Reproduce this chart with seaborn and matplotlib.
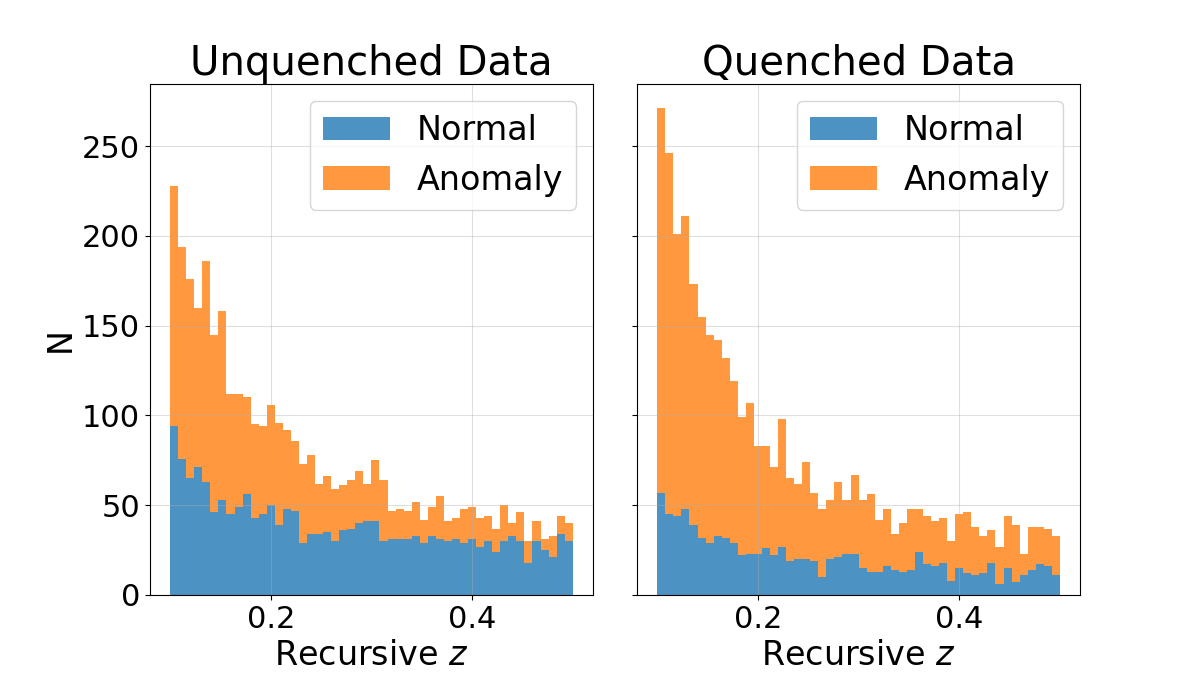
import numpy as np
import pandas as pd
import matplotlib
matplotlib.use("Agg")
import matplotlib.pyplot as plt
import seaborn as sns
from matplotlib.patches import Patch

# bin setup: 50 bins between z=0.1 and z=0.5
z_min, z_max, n_bins = 0.1, 0.5, 50

# counts (Normal at the bottom, Anomaly stacked on top)
unq_normal = [94, 76, 65, 71, 63, 46, 53, 45, 49, 56, 43, 45, 50, 39, 48, 47, 29, 34, 34, 35,
              30, 36, 37, 40, 41, 41, 30, 31, 31, 31, 33, 29, 33, 31, 30, 31, 29, 31, 27, 30,
              24, 30, 33, 30, 18, 30, 25, 21, 34, 30]
unq_anomaly = [134, 118, 111, 89, 123, 99, 105, 67, 63, 54, 52, 49, 56, 57, 44, 39, 44, 44, 28, 31,
               29, 25, 27, 29, 21, 34, 34, 16, 17, 16, 19, 13, 16, 24, 11, 12, 19, 18, 16, 14,
               13, 20, 7, 16, 12, 11, 6, 12, 10, 10]

q_normal = [57, 45, 44, 48, 39, 32, 29, 33, 32, 29, 22, 23, 23, 26, 22, 27, 19, 20, 20, 19,
            10, 20, 21, 23, 23, 15, 13, 13, 16, 14, 13, 14, 24, 17, 16, 18, 8, 15, 12, 11,
            12, 18, 6, 15, 7, 11, 14, 17, 16, 11]
q_anomaly = [214, 201, 157, 163, 134, 123, 116, 109, 100, 90, 77, 84, 60, 57, 49, 71, 46, 42, 54, 38,
             38, 33, 42, 30, 44, 38, 43, 29, 32, 20, 27, 34, 24, 27, 25, 25, 22, 30, 34, 27,
             21, 18, 21, 29, 32, 12, 24, 21, 21, 22]

titles = ["Unquenched Data", "Quenched Data"]
labels = ["Normal", "Anomaly"]
colors = {"Normal": "#1f77b4", "Anomaly": "#ff7f0e"}

edges = np.linspace(z_min, z_max, n_bins + 1)
centers = 0.5 * (edges[:-1] + edges[1:])


def make_df(normal, anomaly):
    d1 = pd.DataFrame({"z": centers, "count": normal, "label": "Normal"})
    d2 = pd.DataFrame({"z": centers, "count": anomaly, "label": "Anomaly"})
    return pd.concat([d1, d2], ignore_index=True)


panels = [make_df(unq_normal, unq_anomaly), make_df(q_normal, q_anomaly)]

fig, axes = plt.subplots(1, 2, figsize=(12, 7), dpi=100, sharey=True)
fig.subplots_adjust(left=0.125, right=0.9, top=0.88, bottom=0.15, wspace=0.1)

for ax, df, title in zip(axes, panels, titles):
    sns.histplot(data=df, x="z", weights="count", hue="label", hue_order=["Anomaly", "Normal"],
                 multiple="stack", bins=n_bins, binrange=(z_min, z_max), palette=colors,
                 alpha=0.8, linewidth=0, legend=False, ax=ax)
    ax.set_title(title, fontsize=29)
    ax.set_xlabel("Recursive $z$", fontsize=24)
    ax.set_ylabel("")
    ax.tick_params(labelsize=22)
    ax.grid(alpha=0.4)
    handles = [Patch(facecolor=colors[l], alpha=0.8, linewidth=0, label=l) for l in labels]
    ax.legend(handles=handles, fontsize=24, loc="upper right")

axes[0].set_ylabel("N", fontsize=24)

plt.savefig("out.png")
